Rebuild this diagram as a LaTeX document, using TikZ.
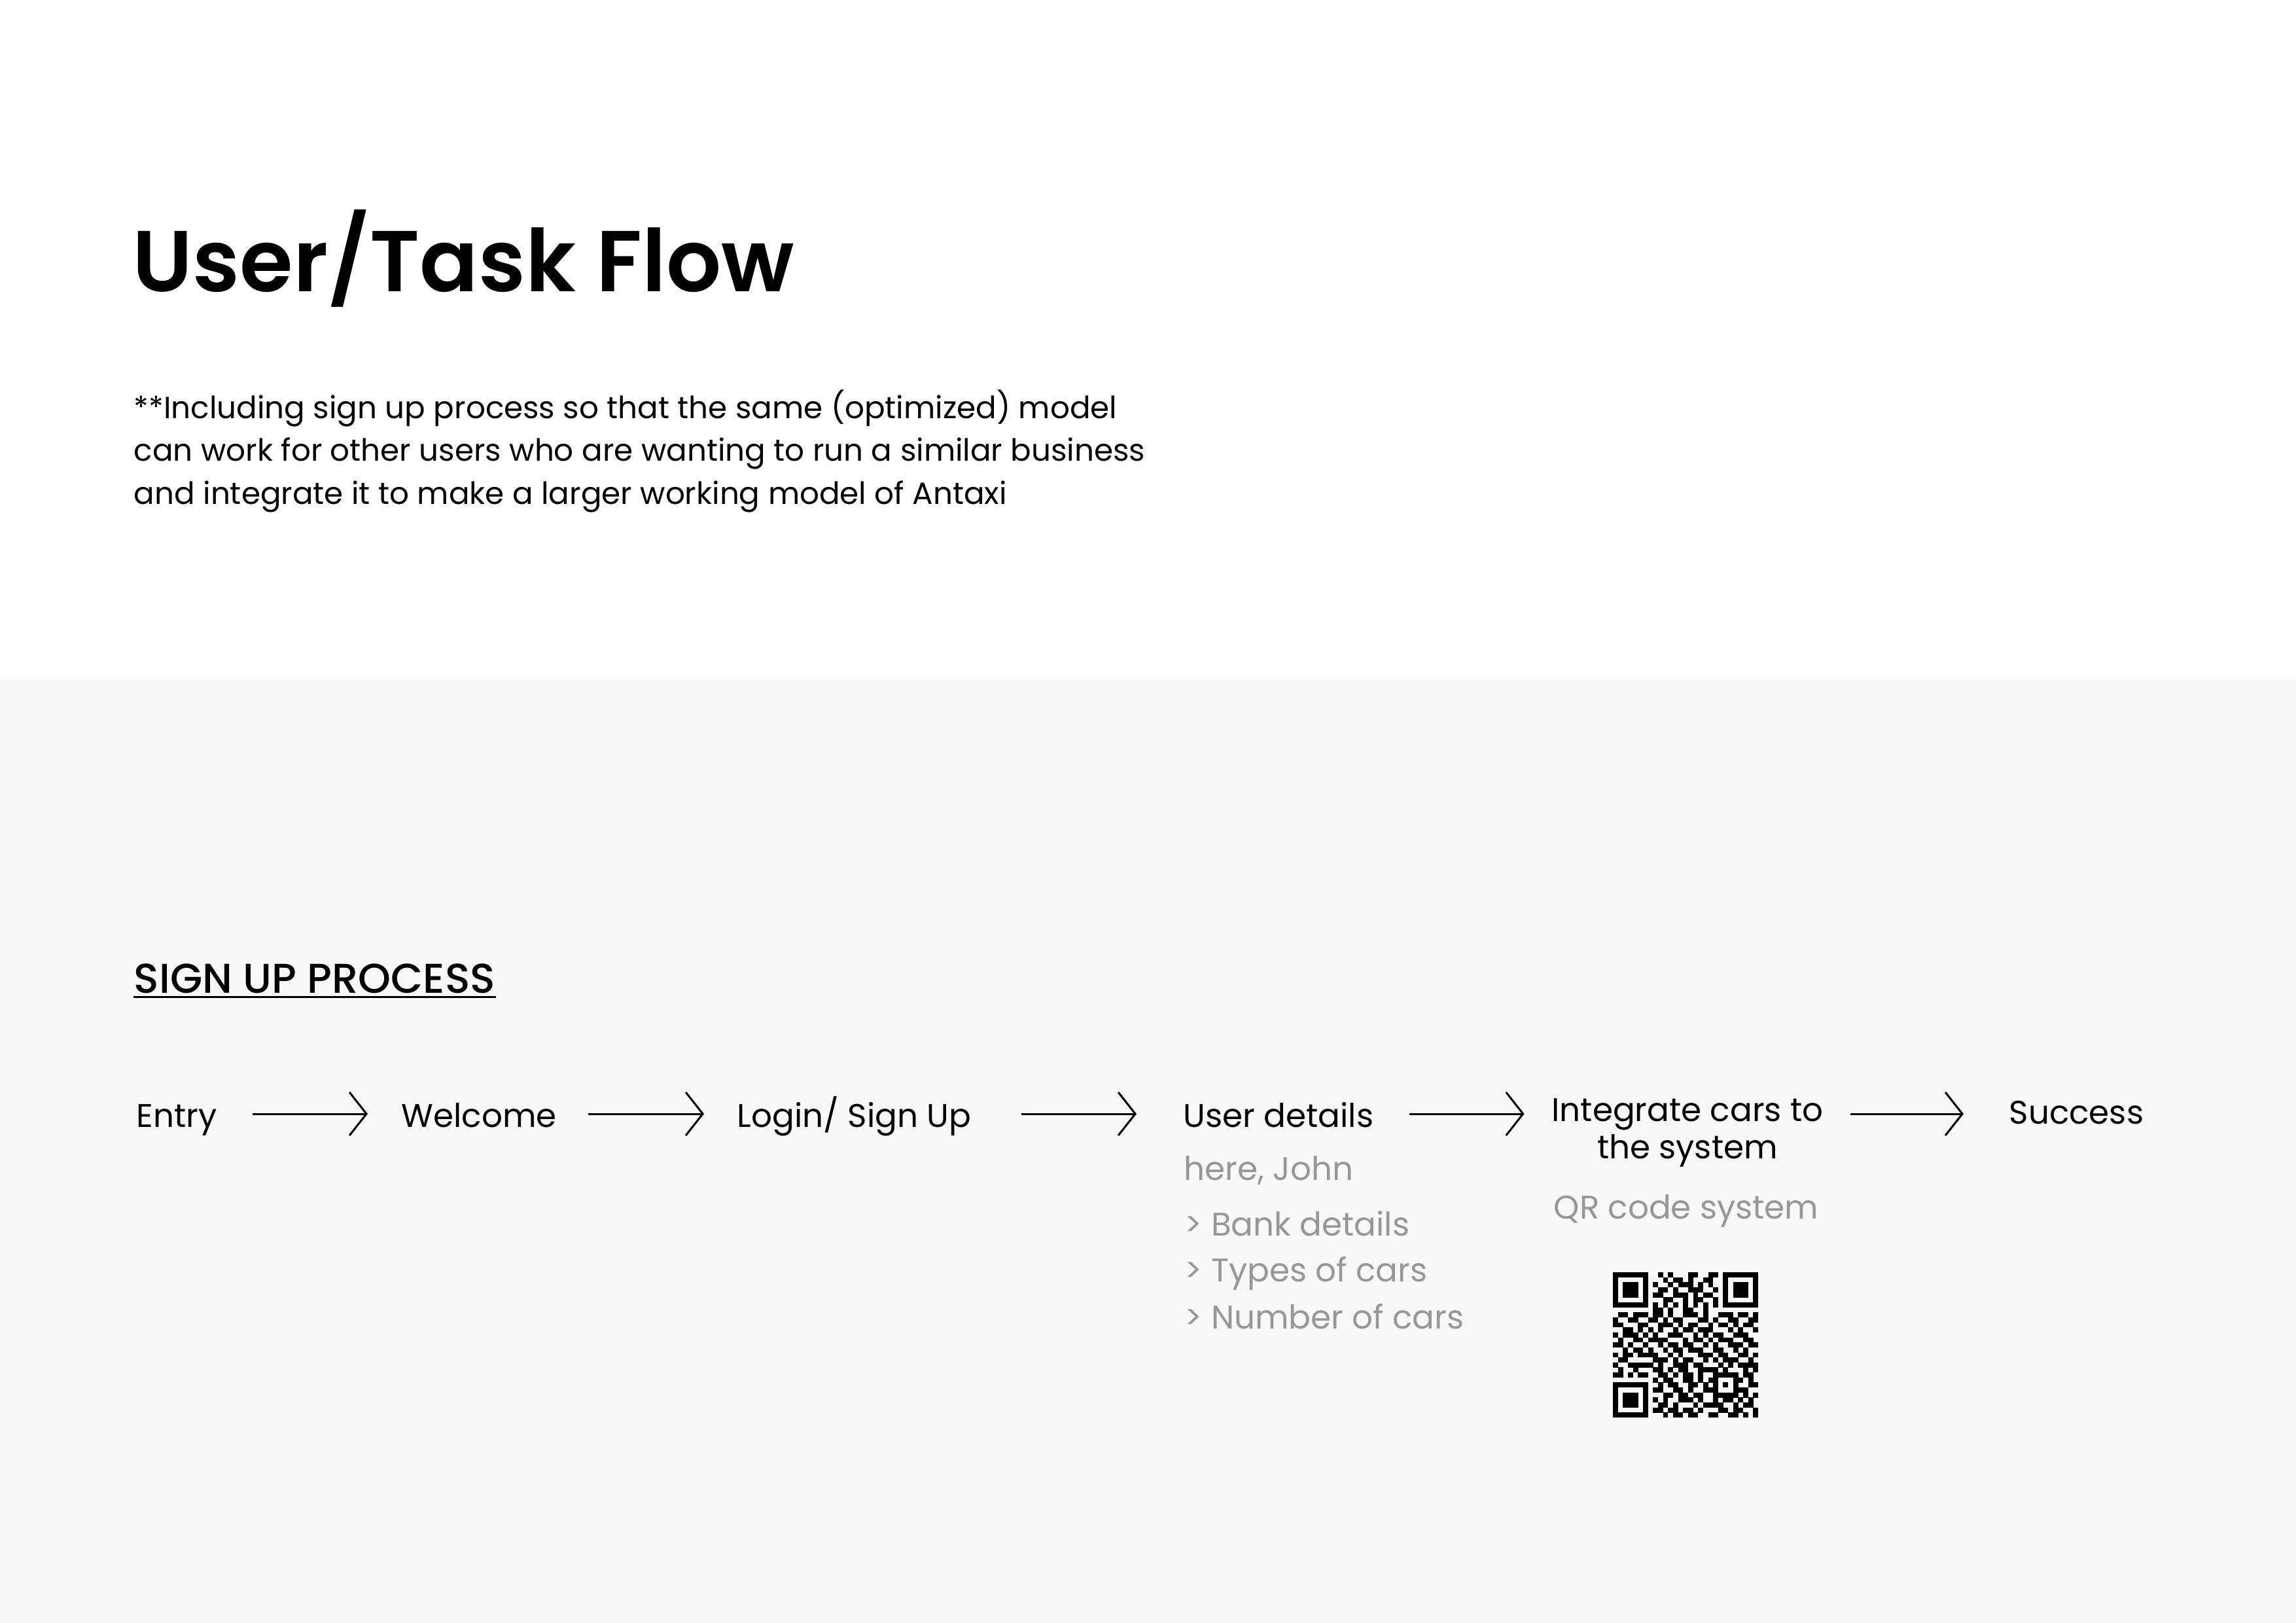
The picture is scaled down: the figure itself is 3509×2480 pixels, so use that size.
\documentclass[tikz,border=0pt]{standalone}
\usepackage{fontspec}
\setmainfont{Poppins}
\newfontfamily\medfont{Poppins Medium}
\newfontfamily\semifont{Poppins SemiBold}
\usetikzlibrary{arrows.meta}
\definecolor{bgbottom}{HTML}{F8F8F8}
\definecolor{greytext}{HTML}{979797}
\newcount\qrc
\def\qrend{}
\def\qrrow#1#2{\qrc=0 \def\qrr{#1}\qrscan#2\qrend}
\def\qrscan#1{\ifx#1\qrend\else\ifnum#1=1 \fill (\the\qrc,\qrr) rectangle ++(1.03,1.03);\fi\advance\qrc by 1 \expandafter\qrscan\fi}
\tikzset{
  flowlbl/.style={font=\fontsize{12.5}{15}\selectfont, inner sep=0pt, text height=10pt, text depth=0pt, anchor=base west},
  greylbl/.style={font=\fontsize{12.5}{15}\selectfont, text=greytext, inner sep=0pt, anchor=base west},
  paralbl/.style={font=\fontsize{11.7}{16}\selectfont, inner sep=0pt, anchor=base west},
  flowarrow/.style={line width=0.75pt, -{Straight Barb[length=6.5pt,width=16.5pt,line width=0.75pt]}}
}
\begin{document}
\begin{tikzpicture}[x=0.25pt,y=-0.25pt]
\useasboundingbox (0,0) rectangle (3509,2480);
\fill[white] (0,0) rectangle (3509,1038);
\fill[bgbottom] (0,1038) rectangle (3509,2480);

\node[inner sep=0pt, anchor=base west, font=\semifont\fontsize{33}{40}\selectfont] (title) at (202,446) {User/Task Flow};
\node[paralbl] (p1) at (204,640) {**Including sign up process so that the same (optimized) model};
\node[paralbl] (p2) at (204,705) {can work for other users who are wanting to run a similar business};
\node[paralbl] (p3) at (204,771) {and integrate it to make a larger working model of Antaxi};

\node[inner sep=0pt, anchor=base west, font=\medfont\fontsize{15.9}{18}\selectfont] (hd) at (204,1517) {SIGN UP PROCESS};
\draw[line width=0.85pt] ([yshift=-1.6pt]hd.base west) -- ([yshift=-1.6pt]hd.base east);

\node[flowlbl] (entry) at (208,1722) {Entry};
\node[flowlbl] (welcome) at (613,1722) {Welcome};
\node[flowlbl] (login) at (1126,1722) {Login/ Sign Up};
\node[flowlbl] (ud) at (1808,1722) {User details};
\node[inner sep=0pt, anchor=base, align=center, font=\fontsize{12.5}{14.25}\selectfont] (integ) at (2579,1770) {Integrate cars to\\the system};
\node[flowlbl] (succ) at (3070,1717) {Success};

\draw[flowarrow, shorten <=13.5pt, shorten >=12.75pt] (entry.east) -- (entry.east -| welcome.west);
\draw[flowarrow, shorten <=11.75pt, shorten >=12.5pt] (welcome.east) -- (welcome.east -| login.west);
\draw[flowarrow, shorten <=19pt, shorten >=17.75pt] (login.east) -- (login.east -| ud.west);
\draw[flowarrow, shorten <=13.5pt, shorten >=10.3pt] (ud.east) -- (ud.east -| integ.west);
\draw[flowarrow, shorten <=10.1pt, shorten >=17.25pt] (integ.east |- ud.east) -- (ud.east -| succ.west);

\node[greylbl] (john) at (1809,1803) {here, John};
\node[greylbl] (bank) at (1810,1888) {> Bank details};
\node[greylbl] (types) at (1810,1958) {> Types of cars};
\node[greylbl] (number) at (1810,2030) {> Number of cars};
\node[greylbl, anchor=base] (qrtxt) at (2577,1862) {QR code system};

\begin{scope}[shift={(2465,1944)}, x=1.914pt, y=-1.914pt]
\qrrow{0}{1111111 0 0101000110011 0 1111111}
\qrrow{1}{1000001 0 0010110100110 0 1000001}
\qrrow{2}{1011101 0 1001011101010 0 1011101}
\qrrow{3}{1011101 0 0110100111001 0 1011101}
\qrrow{4}{1011101 0 1100111010110 0 1011101}
\qrrow{5}{1000001 0 0011001011001 0 1000001}
\qrrow{6}{1111111 0 1010101010101 0 1111111}
\qrrow{7}{0000000 0 1101001100100 0 0000000}
\qrrow{8}{011011 1 0110100111 0100111011 01}
\qrrow{9}{100110 0 1101011000 1101001100 11}
\qrrow{10}{110001 1 0011101011 0010110101 10}
\qrrow{11}{001101 0 1010010110 1110001010 01}
\qrrow{12}{101110 1 0100111001 0101100111 00}
\qrrow{13}{010011 0 1111000101 1010111001 10}
\qrrow{14}{110100 1 0010110110 0101001110 11}
\qrrow{15}{001011 0 1001011011 1001100101 00}
\qrrow{16}{101101 1 1100101000 1110110011 01}
\qrrow{17}{011000 0 0111010110 0101011100 10}
\qrrow{18}{100111 1 1010011101 1000101011 11}
\qrrow{19}{010010 0 0110101100 1111010001 01}
\qrrow{20}{110101 1 0011010110100 11111 0110}
\qrrow{21}{00000000 101100110101 10001 1010}
\qrrow{22}{1111111 0 010110011010 10101 0011}
\qrrow{23}{1000001 0 110011010011 10001 1100}
\qrrow{24}{1011101 0 001101101100 11111 0101}
\qrrow{25}{1011101 0 1010011101 0010110101 0}
\qrrow{26}{1011101 0 0110100010 1111001011 0}
\qrrow{27}{1000001 0 1101101101 0001101100 1}
\qrrow{28}{1111111 0 0010110110 0110011010 1}
\end{scope}
\end{tikzpicture}
\end{document}
